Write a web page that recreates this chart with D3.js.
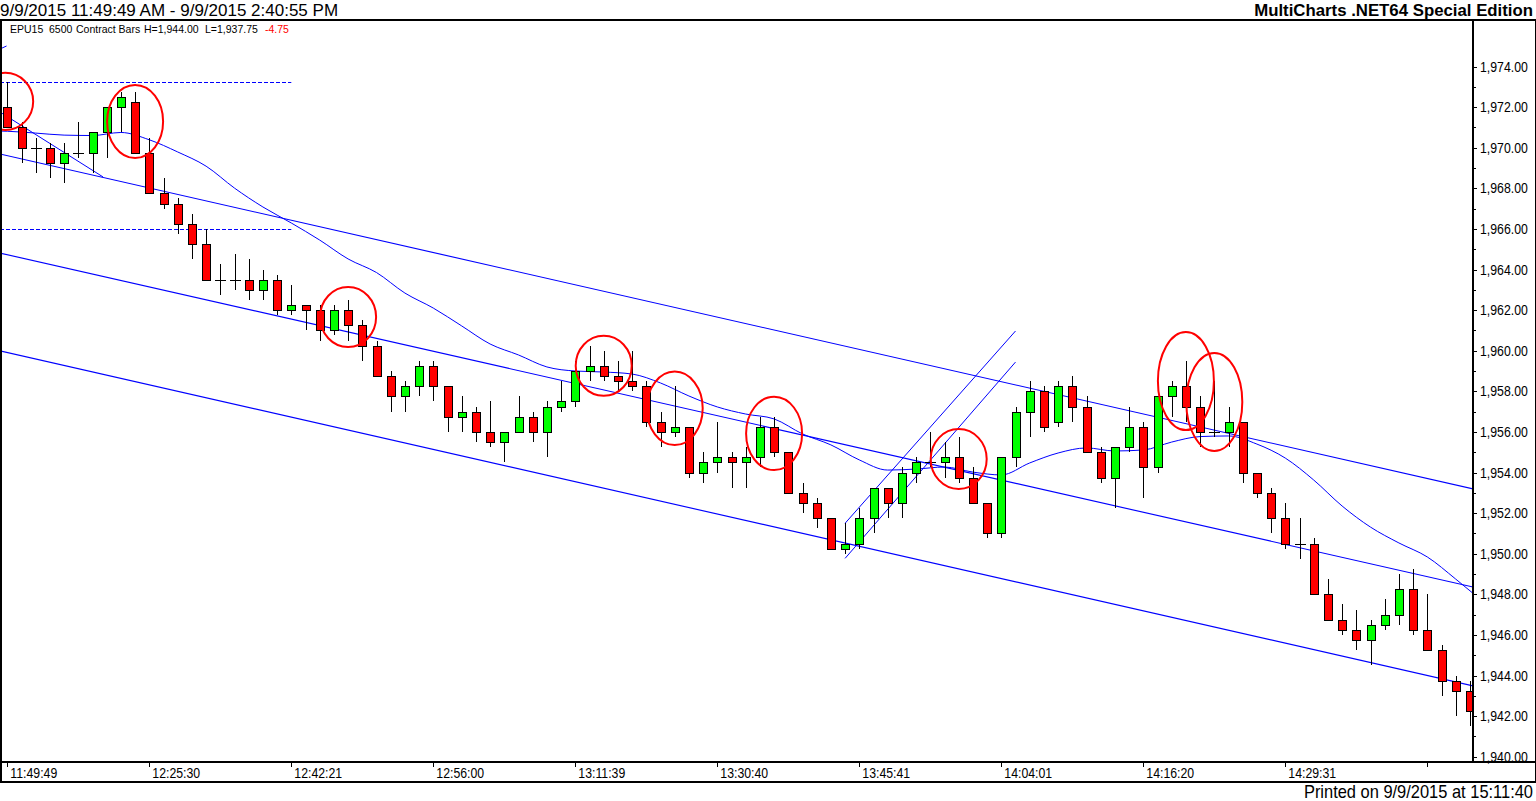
<!DOCTYPE html>
<html>
<head>
<meta charset="utf-8">
<script src="https://cdn.jsdelivr.net/npm/d3@7"></script>
<style>
  html, body { margin: 0; padding: 0; background: #fff; overflow: hidden; }
  svg { display: block; }
</style>
</head>
<body>
<svg id="chart" width="1536" height="801"></svg>
<script>
// EPU15 6500 contract bars, 9/9/2015 11:49:49 AM - 2:40:55 PM
const openPrices = [
  1972.0, 1971.0, 1970.0, 1970.0, 1969.25, 1969.75, 1969.75, 1970.75, 1972.0, 1972.25,
  1969.75, 1967.75, 1967.25, 1966.25, 1965.25, 1963.5, 1963.5, 1963.5, 1963.0, 1963.5,
  1962.0, 1962.25, 1962.0, 1961.0, 1962.0, 1961.25, 1960.25, 1958.75, 1957.75, 1958.25,
  1959.25, 1958.25, 1956.75, 1957.0, 1956.0, 1955.5, 1956.0, 1956.75, 1956.0, 1957.25,
  1957.5, 1959.0, 1959.25, 1958.75, 1958.5, 1958.25, 1956.5, 1956.0, 1956.25, 1954.0,
  1954.5, 1954.75, 1954.5, 1954.75, 1956.25, 1955.0, 1953.0, 1952.5, 1951.75, 1950.25,
  1950.5, 1951.75, 1953.25, 1952.5, 1954.0, 1954.5, 1954.5, 1954.75, 1953.75, 1952.5,
  1951.0, 1954.75, 1957.0, 1958.0, 1956.5, 1958.25, 1957.25, 1955.0, 1953.75, 1955.25,
  1956.25, 1954.25, 1957.75, 1958.25, 1957.25, 1956.0, 1956.0, 1956.5, 1954.0, 1953.0,
  1951.75, 1950.5, 1950.5, 1948.0, 1946.75, 1946.25, 1945.75, 1946.5, 1947.0, 1948.25,
  1946.25, 1945.25, 1943.75, 1943.25
];
const highPrices = [
  1973.25, 1971.25, 1970.5, 1970.25, 1970.25, 1971.25, 1970.75, 1972.0, 1972.75, 1972.75,
  1970.5, 1968.5, 1967.5, 1966.75, 1966.0, 1964.25, 1964.75, 1964.5, 1964.0, 1963.75,
  1963.25, 1962.25, 1962.25, 1962.25, 1962.5, 1961.5, 1960.5, 1959.0, 1958.5, 1959.5,
  1959.5, 1958.25, 1957.75, 1957.25, 1957.5, 1956.0, 1957.75, 1957.0, 1957.5, 1958.5,
  1959.5, 1960.25, 1960.0, 1959.5, 1960.0, 1958.5, 1957.0, 1958.25, 1956.25, 1955.0,
  1956.5, 1955.0, 1955.25, 1956.75, 1956.75, 1955.0, 1953.5, 1952.75, 1951.75, 1951.5,
  1952.25, 1953.25, 1953.25, 1954.25, 1954.75, 1956.0, 1955.5, 1955.75, 1954.25, 1952.5,
  1954.75, 1957.25, 1958.5, 1958.25, 1958.5, 1958.75, 1957.75, 1955.25, 1955.25, 1957.25,
  1956.5, 1957.75, 1958.5, 1959.5, 1957.75, 1958.5, 1957.25, 1956.5, 1954.0, 1953.25,
  1952.5, 1951.75, 1950.75, 1948.75, 1947.5, 1947.25, 1946.75, 1947.75, 1949.0, 1949.25,
  1948.0, 1945.5, 1944.0, 1943.75
];
const lowPrices = [
  1971.0, 1969.25, 1968.75, 1968.5, 1968.25, 1969.5, 1968.75, 1969.5, 1970.75, 1969.75,
  1967.75, 1967.0, 1965.75, 1964.5, 1963.5, 1962.75, 1963.0, 1962.5, 1962.5, 1961.75,
  1961.75, 1961.0, 1960.5, 1960.75, 1960.5, 1959.5, 1958.75, 1957.0, 1957.0, 1957.75,
  1957.5, 1956.0, 1956.0, 1955.5, 1955.25, 1954.5, 1956.0, 1955.5, 1954.75, 1957.0,
  1957.25, 1958.5, 1958.5, 1958.0, 1958.0, 1956.25, 1955.25, 1955.75, 1953.75, 1953.5,
  1954.0, 1953.25, 1953.25, 1954.25, 1954.75, 1953.0, 1952.0, 1951.25, 1950.25, 1950.0,
  1950.25, 1951.0, 1951.75, 1951.75, 1953.5, 1954.25, 1953.75, 1953.5, 1952.5, 1950.75,
  1950.75, 1954.25, 1955.75, 1956.0, 1956.25, 1956.5, 1955.0, 1953.5, 1952.25, 1955.0,
  1952.75, 1954.0, 1956.75, 1956.5, 1955.25, 1955.75, 1955.25, 1953.5, 1952.75, 1951.0,
  1950.25, 1949.75, 1948.0, 1946.75, 1946.0, 1945.25, 1944.5, 1946.25, 1946.5, 1946.0,
  1945.25, 1943.0, 1942.0, 1941.5
];
const closePrices = [
  1971.0, 1970.0, 1970.0, 1969.25, 1969.75, 1969.75, 1970.75, 1972.0, 1972.5, 1969.75,
  1967.75, 1967.25, 1966.25, 1965.25, 1963.5, 1963.5, 1963.5, 1963.0, 1963.5, 1962.0,
  1962.25, 1962.0, 1961.0, 1962.0, 1961.25, 1960.25, 1958.75, 1957.75, 1958.25, 1959.25,
  1958.25, 1956.75, 1957.0, 1956.0, 1955.5, 1956.0, 1956.75, 1956.0, 1957.25, 1957.5,
  1959.0, 1959.25, 1958.75, 1958.5, 1958.25, 1956.5, 1956.0, 1956.25, 1954.0, 1954.5,
  1954.75, 1954.5, 1954.75, 1956.25, 1955.0, 1953.0, 1952.5, 1951.75, 1950.25, 1950.5,
  1951.75, 1953.25, 1952.5, 1954.0, 1954.5, 1954.5, 1954.75, 1953.75, 1952.5, 1951.0,
  1954.75, 1957.0, 1958.0, 1956.25, 1958.25, 1957.25, 1955.0, 1953.75, 1955.25, 1956.25,
  1954.25, 1957.75, 1958.25, 1957.25, 1956.0, 1956.0, 1956.5, 1954.0, 1953.0, 1951.75,
  1950.5, 1950.5, 1948.0, 1946.75, 1946.25, 1945.75, 1946.5, 1947.0, 1948.25, 1946.25,
  1945.25, 1943.75, 1943.25, 1942.25
];

// time axis labels, one every 10 bars (the last tick has no label)
const tickBars = [0, 10, 20, 30, 40, 50, 60, 70, 80, 90, 100];
const tickLabels = ["11:49:49", "12:25:30", "12:42:21", "12:56:00", "13:11:39",
  "13:30:40", "13:45:41", "14:04:01", "14:16:20", "14:29:31", ""];
const priceTicks = d3.range(1940, 1975, 1);

// moving average
const maBars = [-0.5, 0, 2, 4, 6, 8, 10, 12, 14, 16, 18, 20, 22, 24, 26, 28, 30, 32, 34,
  36, 38, 40, 42, 44, 46, 48, 50, 52, 54, 56, 58, 60, 62, 64, 66, 68, 70, 72, 74, 76,
  78, 80, 82, 84, 86, 88, 90, 92, 94, 96, 98, 100, 102, 103.2];
const maValues = [1970.82, 1970.81, 1970.72, 1970.62, 1970.60, 1970.75, 1970.39, 1969.79,
  1969.09, 1968.01, 1967.08, 1966.29, 1965.45, 1964.52, 1963.85, 1962.84, 1962.10, 1961.22,
  1960.33, 1959.79, 1959.20, 1959.00, 1958.95, 1958.85, 1958.41, 1957.77, 1957.23, 1956.88,
  1956.64, 1955.90, 1955.36, 1954.62, 1954.12, 1954.17, 1954.27, 1954.02, 1953.88, 1954.47,
  1954.96, 1955.21, 1955.06, 1955.11, 1955.50, 1955.77, 1955.80, 1955.40, 1954.71, 1953.63,
  1952.35, 1951.31, 1950.53, 1949.84, 1948.75, 1948.06];

// regression channel (upper, middle, lower) between two bar positions
const channelBars = [-0.52, 103.22];
const channelUpper = [1969.69, 1953.19];
const channelMiddle = [1964.81, 1948.36];
const channelLower = [1959.99, 1943.49];

// other drawn trend lines: [bar0, price0, bar1, price1]
const trendLines = [
  [-0.52, 1971.76, 6.74, 1968.56],
  [-0.52, 1974.86, -0.05, 1975.01],
  [59, 1951.5, 71, 1960.97],
  [59, 1949.77, 71, 1959.44]
];

// dashed horizontal levels
const levelPrices = [1973.25, 1966.0];
const levelEndBar = 20;

// red highlight ellipses: centre bar, top price, bottom price
const markBars = [-0.15, 9, 24, 42, 47, 54, 67, 83, 85];
const markTops = [1973.69, 1973.09, 1963.14, 1960.74, 1958.97, 1957.73, 1956.14, 1960.92, 1959.89];
const markBottoms = [1970.87, 1969.49, 1960.18, 1957.78, 1955.35, 1954.12, 1953.19, 1956.09, 1955.06];

const W = 1536, H = 801;
const plotLeft = 0, plotRight = 1473, plotTop = 20, plotBottom = 762;
const sans = "'Liberation Sans', Arial, sans-serif";

const svg = d3.select("#chart");

// squeeze a text horizontally (the original uses a narrow face)
function placeNarrow(sel, px, py, factor) {
  sel.attr("x", 0).attr("y", 0)
    .attr("transform", (d, i) => `translate(${px(d, i)},${py(d, i)}) scale(${factor},1)`);
}

const x = d3.scaleLinear().domain([0, 103]).range([7.3, 1469.9]);
const y = d3.scaleLinear().domain([1940, 1974]).range([756.7, 66.5]);

svg.append("defs").append("clipPath").attr("id", "plotClip")
  .append("rect")
  .attr("x", plotLeft).attr("y", plotTop)
  .attr("width", plotRight - plotLeft).attr("height", plotBottom - plotTop);

const plot = svg.append("g").attr("clip-path", "url(#plotClip)");

// dashed levels
plot.selectAll("line.level").data(levelPrices).enter().append("line")
  .attr("class", "level")
  .attr("x1", plotLeft).attr("x2", x(levelEndBar))
  .attr("y1", (d) => Math.round(y(d)) + 0.5).attr("y2", (d) => Math.round(y(d)) + 0.5)
  .attr("stroke", "#0000ff").attr("stroke-width", 1).attr("stroke-dasharray", "4,2");

// regression channel
[channelUpper, channelMiddle, channelLower].forEach((c) => {
  plot.append("line")
    .attr("x1", x(channelBars[0])).attr("y1", y(c[0]))
    .attr("x2", x(channelBars[1])).attr("y2", y(c[1]))
    .attr("stroke", "#0000ff").attr("stroke-width", 1.15);
});

// trend lines
plot.selectAll("line.trend").data(trendLines).enter().append("line")
  .attr("class", "trend")
  .attr("x1", (d) => x(d[0])).attr("y1", (d) => y(d[1]))
  .attr("x2", (d) => x(d[2])).attr("y2", (d) => y(d[3]))
  .attr("stroke", "#0000ff").attr("stroke-width", 1);

// moving average
const maLine = d3.line()
  .x((d, i) => x(maBars[i]))
  .y((d) => y(d))
  .curve(d3.curveMonotoneX);
plot.append("path")
  .datum(maValues)
  .attr("d", maLine)
  .attr("fill", "none")
  .attr("stroke", "#0000ff")
  .attr("stroke-width", 1);

// candles
const bars = d3.range(openPrices.length).map((i) => ({
  i, o: openPrices[i], h: highPrices[i], l: lowPrices[i], c: closePrices[i]
}));
const candle = plot.selectAll("g.candle").data(bars).enter().append("g")
  .attr("class", "candle")
  .attr("shape-rendering", "crispEdges");

candle.append("line")
  .attr("x1", (d) => Math.round(x(d.i)) + 0.5).attr("x2", (d) => Math.round(x(d.i)) + 0.5)
  .attr("y1", (d) => Math.round(y(d.h))).attr("y2", (d) => Math.round(y(d.l)))
  .attr("stroke", "#000").attr("stroke-width", 1);

candle.filter((d) => d.o !== d.c).append("rect")
  .attr("x", (d) => Math.round(x(d.i)) - 4 + 0.5)
  .attr("y", (d) => Math.round(y(Math.max(d.o, d.c))) + 0.5)
  .attr("width", 8)
  .attr("height", (d) => Math.round(y(Math.min(d.o, d.c))) - Math.round(y(Math.max(d.o, d.c))))
  .attr("fill", (d) => (d.c > d.o ? "#00ff00" : "#ff0000"))
  .attr("stroke", "#000").attr("stroke-width", 1);

candle.filter((d) => d.o === d.c).append("line")
  .attr("x1", (d) => Math.round(x(d.i)) - 5).attr("x2", (d) => Math.round(x(d.i)) + 6)
  .attr("y1", (d) => Math.round(y(d.o)) + 0.5).attr("y2", (d) => Math.round(y(d.o)) + 0.5)
  .attr("stroke", "#000").attr("stroke-width", 1);

// red highlight ellipses
plot.selectAll("ellipse.mark").data(markBars).enter().append("ellipse")
  .attr("class", "mark")
  .attr("cx", (d) => x(d))
  .attr("cy", (d, i) => (y(markTops[i]) + y(markBottoms[i])) / 2)
  .attr("rx", 28)
  .attr("ry", (d, i) => (y(markBottoms[i]) - y(markTops[i])) / 2)
  .attr("fill", "none")
  .attr("stroke", "#ff0000")
  .attr("stroke-width", 2);

// frame
const frame = svg.append("g").attr("shape-rendering", "crispEdges")
  .attr("stroke", "#000").attr("stroke-width", 1.5);
frame.append("line").attr("x1", 0).attr("x2", W).attr("y1", plotTop).attr("y2", plotTop);
frame.append("line").attr("x1", 0).attr("x2", W).attr("y1", plotBottom).attr("y2", plotBottom);
frame.append("line").attr("x1", 0).attr("x2", W).attr("y1", 782).attr("y2", 782);
frame.append("line").attr("x1", 0.75).attr("x2", 0.75).attr("y1", plotTop).attr("y2", 782);
frame.append("line").attr("x1", plotRight).attr("x2", plotRight).attr("y1", plotTop).attr("y2", plotBottom);
frame.append("line").attr("x1", W - 0.75).attr("x2", W - 0.75).attr("y1", plotTop).attr("y2", 782);

// price axis
const yAxis = svg.append("g").attr("shape-rendering", "crispEdges");
yAxis.selectAll("line").data(priceTicks).enter().append("line")
  .attr("x1", plotRight).attr("x2", (d) => plotRight + (d % 2 === 0 ? 4 : 3))
  .attr("y1", (d) => Math.round(y(d)) + 0.5).attr("y2", (d) => Math.round(y(d)) + 0.5)
  .attr("stroke", "#000");
const yLabels = yAxis.selectAll("text").data(priceTicks.filter((d) => d % 2 === 0)).enter().append("text")
  .attr("font-family", sans).attr("font-size", 15).attr("fill", "#000")
  .text((d) => d3.format(",.2f")(d));
placeNarrow(yLabels, () => plotRight + 7, (d) => y(d) + 5, 0.82);

// time axis
const xAxis = svg.append("g");
xAxis.selectAll("line").data(tickBars).enter().append("line")
  .attr("shape-rendering", "crispEdges")
  .attr("x1", (d) => Math.round(x(d)) + 0.5).attr("x2", (d) => Math.round(x(d)) + 0.5)
  .attr("y1", plotBottom).attr("y2", plotBottom + 5)
  .attr("stroke", "#000");
const xLabels = xAxis.selectAll("text").data(tickBars).enter().append("text")
  .attr("font-family", sans).attr("font-size", 15).attr("fill", "#000")
  .text((d, i) => tickLabels[i]);
placeNarrow(xLabels, (d) => x(d) + 3, () => plotBottom + 16, 0.82);

// header and footer texts
svg.append("text").attr("x", 0).attr("y", 16)
  .attr("font-family", sans).attr("font-size", 17).attr("fill", "#000")
  .text("9/9/2015 11:49:49 AM - 9/9/2015 2:40:55 PM");
svg.append("text").attr("x", 1533).attr("y", 16).attr("text-anchor", "end")
  .attr("font-family", sans).attr("font-size", 16.8).attr("font-weight", "bold").attr("fill", "#000")
  .text("MultiCharts .NET64 Special Edition");
const footer = svg.append("text").attr("text-anchor", "end")
  .attr("font-family", sans).attr("font-size", 17.5).attr("fill", "#000")
  .text("Printed on 9/9/2015 at 15:11:40");
placeNarrow(footer, () => 1533, () => 798, 0.94);

const legendParts = [
  ["EPU15", 10, "#000"], ["6500", 49, "#000"], ["Contract Bars", 76, "#000"],
  ["H=1,944.00", 144, "#000"], ["L=1,937.75", 205, "#000"], ["-4.75", 265, "#ff0000"]
];
const legend = svg.append("text").attr("y", 33)
  .attr("font-family", sans).attr("font-size", 10.5);
legendParts.forEach((p) => {
  legend.append("tspan").attr("x", p[1]).attr("fill", p[2]).text(p[0]);
});
</script>
</body>
</html>
